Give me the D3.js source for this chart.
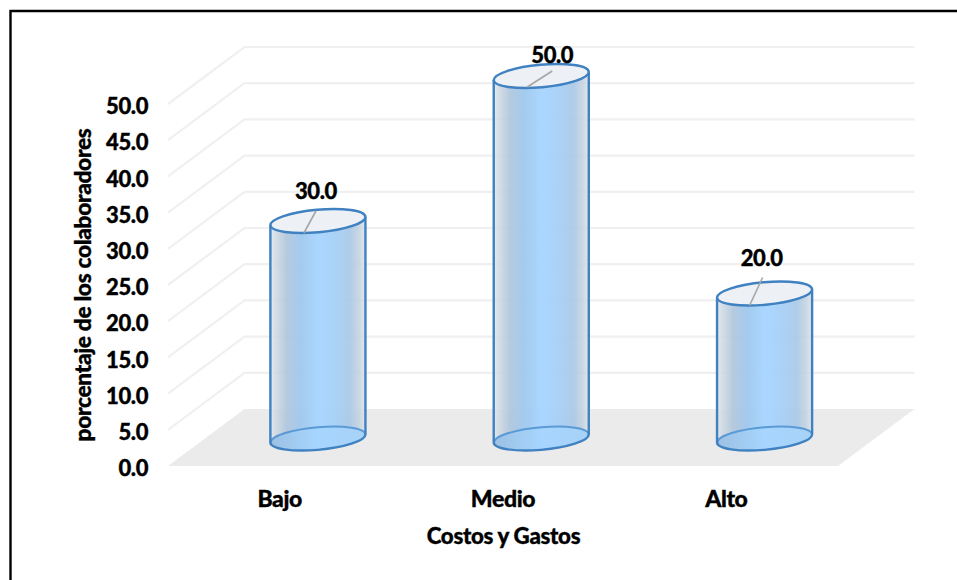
<!DOCTYPE html>
<html lang="es">
<head>
<meta charset="utf-8">
<title>Costos y Gastos</title>
<script src="https://cdn.jsdelivr.net/npm/d3@7"></script>
<style>
  html, body { margin: 0; padding: 0; background: #fff; }
  svg { display: block; }
  text { font-family: Lato, "Open Sans", sans-serif; font-weight: 900; fill: #000; stroke: #000; stroke-width: 0.35; }
</style>
</head>
<body>
<svg id="chart" width="957" height="580"></svg>
<script>
const categories = ["Bajo", "Medio", "Alto"];
const values = [30, 50, 20];
const tickValues = [0, 5, 10, 15, 20, 25, 30, 35, 40, 45, 50];
const xTitle = "Costos y Gastos";
const yTitle = "porcentaje de los colaboradores";

// Hand-placed data label and leader line offsets, relative to each cylinder's top centre
const labelOffsets = [[-2, -30], [11, -21], [-3, -35]];
const leaderEnds = [[[-14, 12], [-2, -10]], [[-14, 11], [11, -5]], [[-15, 12], [-2, -16]]];

const svg = d3.select("#chart");
const defs = svg.append("defs");

// Pseudo-3D frame: a floor parallelogram with a depth offset between front and back
const front = { x0: 168, x1: 838, y: 466 };
const depth = { dx: 76.5, dy: -57 };
const plotHeight = 362;

const yFront = d3.scaleLinear().domain([0, 50]).range([front.y, front.y - plotHeight]);
const xFront = d3.scaleBand().domain(categories).range([front.x0, front.x1]);
const xMid = d3.scaleBand().domain(categories)
  .range([front.x0 + depth.dx / 2, front.x1 + depth.dx / 2]);
const barBase = 438.5;
const barHeight = d3.scaleLinear().domain([0, 50]).range([0, 362.5]);

// Outer frame: only the top and left edges fall inside the canvas
svg.append("path")
  .attr("d", "M10.5,580V11H957")
  .attr("fill", "none")
  .attr("stroke", "#000")
  .attr("stroke-width", 2.4);

// Floor
svg.append("path")
  .attr("d", d3.line()([
    [front.x0, front.y], [front.x1, front.y],
    [front.x1 + depth.dx, front.y + depth.dy], [front.x0 + depth.dx, front.y + depth.dy]
  ]) + "Z")
  .attr("fill", "#ebebeb");

// Side-wall and back-wall gridlines
svg.append("g").selectAll("path")
  .data(tickValues.filter(d => d > 0))
  .join("path")
  .attr("d", d => d3.line()([
    [front.x0, yFront(d)],
    [front.x0 + depth.dx, yFront(d) + depth.dy],
    [front.x1 + depth.dx, yFront(d) + depth.dy]
  ]))
  .attr("fill", "none")
  .attr("stroke", "#f0f0f0")
  .attr("stroke-width", 2.2);

// Value axis labels
svg.append("g").selectAll("text")
  .data(tickValues)
  .join("text")
  .attr("x", 148)
  .attr("y", d => yFront(d) + 2.3)
  .attr("dy", "0.36em")
  .attr("text-anchor", "end")
  .attr("font-size", 22)
  .attr("letter-spacing", -0.4)
  .text(d => d3.format(".1f")(d));

// Cylinder shading: pale rim, grey-blue shoulder, bright centre
const bodyGrad = defs.append("linearGradient").attr("id", "bodyShade");
[[0, "#dfe6ec", 0.85], [0.06, "#cdd8e2", 0.88], [0.17, "#afc6dc", 0.92], [0.32, "#9fc8ee", 0.95],
 [0.5, "#a8d5ff", 0.97], [0.68, "#a6d0f7", 0.95], [0.84, "#a9c8e6", 0.92], [0.94, "#c5d3e0", 0.88], [1, "#dde4ea", 0.85]]
  .forEach(([o, c, a]) => bodyGrad.append("stop")
    .attr("offset", o).attr("stop-color", c).attr("stop-opacity", a));

const baseGrad = defs.append("linearGradient").attr("id", "baseShade");
[[0, "#9cc0e2"], [0.5, "#a6d5ff"], [1, "#a8d2f7"]]
  .forEach(([o, c]) => baseGrad.append("stop").attr("offset", o).attr("stop-color", c));

// Ellipse geometry shared by both caps
const rx = 47.7, ry = 11.3, tilt = -5.1;
const rad = tilt * Math.PI / 180;
const halfW = Math.sqrt(rx * rx * Math.cos(rad) ** 2 + ry * ry * Math.sin(rad) ** 2);
const edgeDy = (rx * rx - ry * ry) * Math.sin(rad) * Math.cos(rad) / halfW;
const stroke = "#3f81c1";

const bars = svg.append("g").selectAll("g")
  .data(categories.map((c, i) => ({ c, v: values[i], i })))
  .join("g")
  .attr("transform", d => `translate(${xMid(d.c) + xMid.bandwidth() / 2},${barBase})`);

// Bottom cap
bars.append("ellipse")
  .attr("rx", rx).attr("ry", ry)
  .attr("transform", `rotate(${tilt})`)
  .attr("fill", "url(#baseShade)");

// Body: left edge, front arc of the top cap, right edge, back arc of the bottom cap
bars.append("path")
  .attr("d", d => {
    const h = barHeight(d.v);
    return `M${-halfW},${-h - edgeDy}` +
      `A${rx},${ry} ${tilt} 0 0 ${halfW},${-h + edgeDy}` +
      `L${halfW},${edgeDy}` +
      `A${rx},${ry} ${tilt} 0 0 ${-halfW},${-edgeDy}Z`;
  })
  .attr("fill", "url(#bodyShade)");

// Bottom cap back rim, softened by the translucent wall in front of it
bars.append("path")
  .attr("d", `M${-halfW},${-edgeDy}A${rx},${ry} ${tilt} 0 1 ${halfW},${edgeDy}`)
  .attr("fill", "none").attr("stroke", "#5a9ad6").attr("stroke-width", 2);

// Outline of the walls and lower rim
bars.append("path")
  .attr("d", d => {
    const h = barHeight(d.v);
    return `M${-halfW},${-h - edgeDy}L${-halfW},${-edgeDy}` +
      `A${rx},${ry} ${tilt} 0 0 ${halfW},${edgeDy}L${halfW},${-h + edgeDy}`;
  })
  .attr("fill", "none").attr("stroke", stroke).attr("stroke-width", 2.4);

// Top cap
bars.append("ellipse")
  .attr("cy", d => -barHeight(d.v))
  .attr("rx", rx).attr("ry", ry)
  .attr("transform", d => `rotate(${tilt},0,${-barHeight(d.v)})`)
  .attr("fill", "#edf1f5")
  .attr("stroke", stroke).attr("stroke-width", 2.4);

// Leader lines
bars.append("path")
  .attr("d", d => {
    const h = barHeight(d.v);
    const [a, b] = leaderEnds[d.i];
    return d3.line()([[a[0], a[1] - h], [b[0], b[1] - h]]);
  })
  .attr("stroke", "#a6a6a6").attr("stroke-width", 1.6).attr("fill", "none");

// Data labels
bars.append("text")
  .attr("x", d => labelOffsets[d.i][0])
  .attr("y", d => labelOffsets[d.i][1] - barHeight(d.v))
  .attr("dy", "0.36em")
  .attr("text-anchor", "middle")
  .attr("font-size", 22)
  .attr("letter-spacing", -0.4)
  .text(d => d3.format(".1f")(d.v));

// Category labels
svg.append("g").selectAll("text")
  .data(categories)
  .join("text")
  .attr("x", d => xFront(d) + xFront.bandwidth() / 2)
  .attr("y", 499)
  .attr("dy", "0.36em")
  .attr("text-anchor", "middle")
  .attr("font-size", 23)
  .attr("letter-spacing", -0.4)
  .text(d => d);

// Axis titles
svg.append("text")
  .attr("x", 503.5).attr("y", 536).attr("dy", "0.36em")
  .attr("text-anchor", "middle")
  .attr("font-size", 22.3)
  .attr("letter-spacing", -0.3)
  .text(xTitle);

svg.append("text")
  .attr("transform", "translate(82.5,285) rotate(-90)")
  .attr("dy", "0.36em")
  .attr("text-anchor", "middle")
  .attr("font-size", 22.7)
  .attr("letter-spacing", -0.3)
  .text(yTitle);
</script>
</body>
</html>
